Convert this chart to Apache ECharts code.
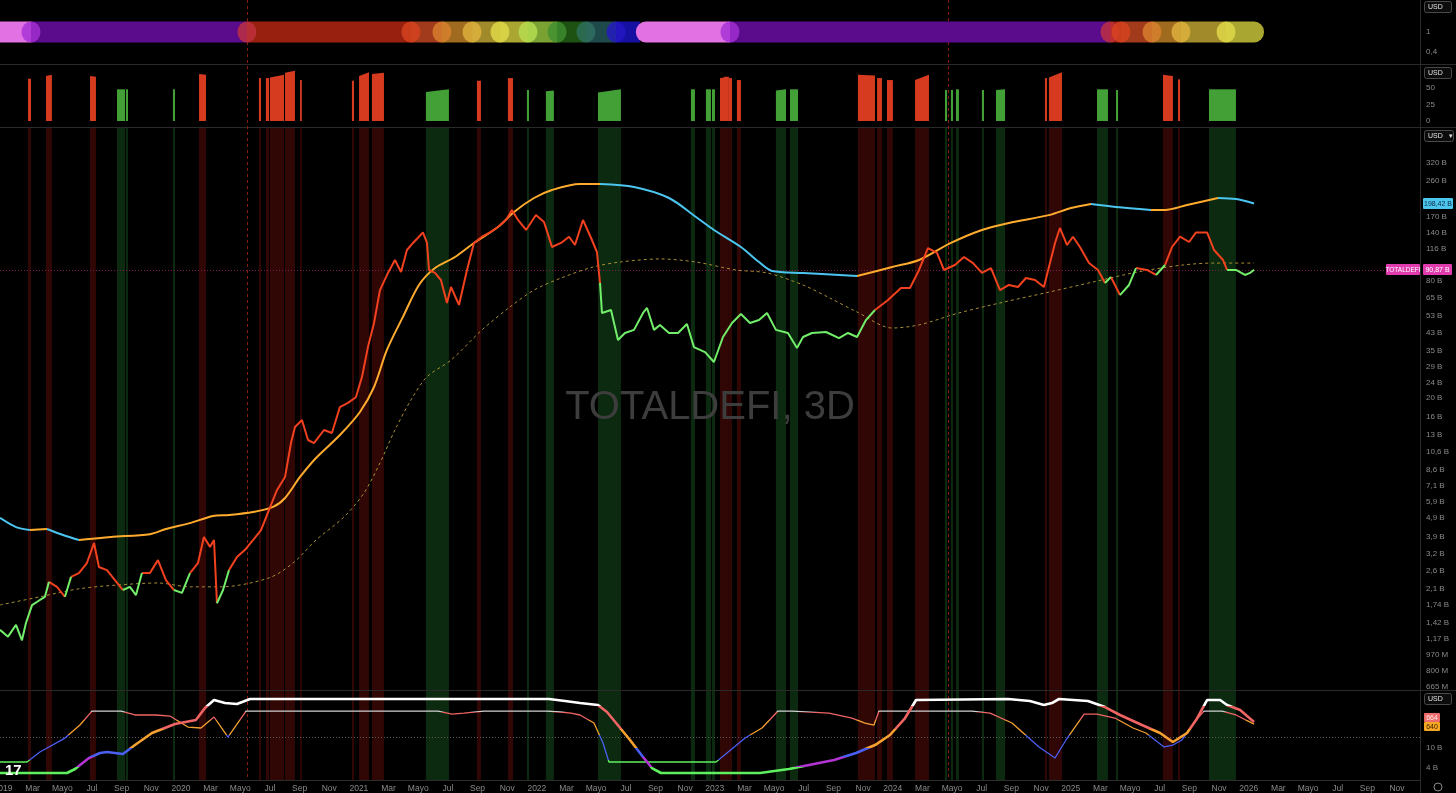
<!DOCTYPE html>
<html><head><meta charset="utf-8">
<script src="https://cdn.jsdelivr.net/npm/echarts@6/dist/echarts.min.js"></script>
<style>html,body{margin:0;padding:0;background:#000;overflow:hidden}#c{width:1456px;height:793px}</style>
</head><body><div id="c"></div>
<script>
// ================= DATA (x = months since Jan 2019) =================
const timeTickMonths = [0,2,4,6,8,10,12,14,16,18,20,22,24,26,28,30,32,34,36,38,40,42,44,46,48,50,52,54,56,58,60,62,64,66,68,70,72,74,76,78,80,82,84,86,88,90,92,94];
const timeTickLabels = ['2019','Mar','Mayo','Jul','Sep','Nov','2020','Mar','Mayo','Jul','Sep','Nov','2021','Mar','Mayo','Jul','Sep','Nov','2022','Mar','Mayo','Jul','Sep','Nov','2023','Mar','Mayo','Jul','Sep','Nov','2024','Mar','Mayo','Jul','Sep','Nov','2025','Mar','Mayo','Jul','Sep','Nov','2026','Mar','Mayo','Jul','Sep','Nov'];

const mainTickValues = [320,260,170,140,116,80,65,53,43,35,29,24,20,16,13,10.6,8.6,7.1,5.9,4.9,3.9,3.2,2.6,2.1,1.74,1.42,1.17,0.97,0.80,0.665];
const mainTickLabels = ['320 B','260 B','170 B','140 B','116 B','80 B','65 B','53 B','43 B','35 B','29 B','24 B','20 B','16 B','13 B','10,6 B','8,6 B','7,1 B','5,9 B','4,9 B','3,9 B','3,2 B','2,6 B','2,1 B','1,74 B','1,42 B','1,17 B','970 M','800 M','665 M'];
const ribbonTickValues = [1, 0.4];
const ribbonTickLabels = ['1', '0,4'];
const histTickValues = [0, 25, 50];
const oscTickValues = [366, 137];
const oscTickLabels = ['10 B', '4 B'];

// TOTALDEFI price (billions USD)
const priceMonths = [-0.20,0.34,0.88,1.28,1.55,1.96,2.49,2.83,3.10,3.64,4.18,4.59,5.12,5.66,6.14,6.47,7.01,7.55,8.09,8.56,8.97,9.37,9.91,10.45,10.99,11.53,12.07,12.61,13.15,13.55,13.96,14.23,14.43,14.84,15.24,15.78,16.32,16.86,17.40,17.94,18.48,19.02,19.42,19.69,20.16,20.57,20.97,21.65,22.18,22.72,23.26,23.80,24.21,24.61,25.02,25.42,25.96,26.43,26.84,27.24,27.65,28.05,28.32,28.59,28.73,29.13,29.53,29.94,30.21,30.75,31.29,31.76,32.30,32.84,33.38,33.92,34.32,34.73,35.27,35.94,36.48,37.02,37.63,38.17,38.57,39.11,39.65,40.05,40.26,40.39,41.00,41.47,41.94,42.55,43.16,43.43,43.90,44.30,44.91,45.52,46.12,46.59,47.34,47.94,48.55,49.16,49.76,50.37,50.98,51.52,52.12,52.93,53.54,53.95,54.55,55.50,56.37,56.98,57.59,58.19,58.80,59.68,60.55,61.16,61.77,62.37,62.98,63.45,64.19,64.80,65.41,66.01,66.62,67.23,67.83,68.44,68.98,69.59,70.19,70.53,70.94,71.27,71.75,72.15,72.62,73.23,73.84,74.31,74.71,75.32,75.93,76.40,77.14,77.75,78.36,78.83,79.37,79.98,80.45,81.19,81.66,82.27,82.54,83.14,83.75,84.09,84.36];
const priceValues = [1.30,1.20,1.38,1.15,1.41,1.74,1.85,1.92,2.29,2.16,1.92,2.43,2.54,2.86,3.62,2.73,2.63,2.34,2.08,2.16,1.96,2.54,2.54,2.96,2.34,2.08,2.01,2.54,2.86,3.89,3.46,3.75,1.78,2.08,2.63,3.07,3.34,3.75,4.22,5.35,6.77,7.89,11.77,14.22,15.45,12.20,11.77,13.73,13.25,18.0,18.9,20.2,25.7,36.5,48.5,71.5,87.5,101.9,88.5,114.7,124.6,134.1,141.1,124.6,90.6,87.5,80.5,61.4,74.1,60.0,90.6,124.6,134.1,141.1,150.4,163.4,183.8,163.4,145.2,173.3,159.7,118.8,124.6,134.1,121.6,163.4,132.5,112.0,77.7,54.6,56.5,39.7,43.1,44.7,54.6,57.9,44.7,47.4,43.1,43.1,47.9,36.5,34.4,30.6,41.1,48.5,53.9,48.5,50.2,54.6,44.7,43.1,36.1,41.1,43.1,43.6,40.6,43.1,41.1,50.2,56.5,63.6,73.2,73.2,90.6,117.4,110.7,90.6,96.1,105.6,98.3,87.5,92.7,71.5,75.9,74.1,82.4,80.5,74.1,93.8,124.6,148.7,121.6,134.1,118.8,98.3,90.6,77.7,83.4,67.4,75.9,92.7,90.6,85.4,96.1,118.8,134.1,126.0,141.1,141.1,114.7,101.9,90.6,90.6,85.4,87.5,90.87];

// Long moving average (orange rising / blue falling)
const maMonths = [-0.20,0.88,1.82,2.97,4.05,5.12,7.28,9.91,10.99,12.61,14.16,15.24,16.86,18.21,19.02,20.03,21.11,22.72,24.07,25.02,25.89,26.97,28.05,29.13,30.48,31.76,33.38,34.46,35.81,37.02,38.91,40.26,42.55,44.91,46.73,47.94,49.76,50.98,51.86,53.95,57.59,59.95,61.77,63.92,66.01,67.83,70.53,72.02,73.37,75.05,77.41,78.36,79.84,81.93,83.14,84.36];
const maValues = [4.87,4.37,4.22,4.27,3.98,3.75,3.89,4.02,4.27,4.58,4.98,5.04,5.22,5.54,6.16,7.89,9.87,12.94,16.98,22.8,35.3,52.1,75.9,92.7,105.6,124.6,150.4,179.5,211.7,232.7,249.8,249.8,241.0,211.7,169.3,145.2,118.8,99.5,89.5,87.5,84.4,93.8,101.9,124.6,145.2,157.8,173.0,188.1,197.2,190.4,183.8,183.8,195.0,211.7,209.2,198.42];

// Dashed trend line
const dashMonths = [-0.20,2.49,5.12,7.82,10.45,12.61,14.70,17.94,19.56,21.11,22.99,24.34,25.42,26.43,27.51,28.59,30.21,32.30,34.19,35.81,37.63,39.78,41.61,44.30,46.73,49.43,51.52,53.95,55.77,57.59,59.95,61.77,64.46,67.50,70.53,73.50,76.53,79.57,81.66,84.36];
const dashValues = [1.744,1.92,2.11,2.21,2.26,2.16,2.16,2.40,2.86,3.75,4.92,6.53,9.30,13.73,19.56,25.7,31.3,44.7,58.6,71.5,82.4,93.8,99.5,103.2,99.5,90.6,87.5,75.9,65.0,55.2,45.7,47.4,54.6,62.1,69.8,78.6,88.5,96.1,98.3,98.3];

// Bottom oscillator (thick)
const osc1Months = [-0.20,4.32,4.86,5.80,6.54,7.01,8.09,8.90,10.05,11.60,13.01,13.62,14.23,14.97,15.78,16.66,36.82,37.90,38.91,40.12,40.73,41.34,42.28,43.16,43.76,44.37,51.05,53.00,56.04,57.52,58.80,59.81,60.83,61.57,67.77,69.25,70.19,70.73,71.21,73.16,74.31,75.32,76.80,78.02,78.89,79.84,80.45,81.19,82.07,82.54,83.42,84.36];
const osc1Values = [80,80,126,252,309,320,297,400,538,641,686,824,915,881,869,927,927,904,881,858,778,652,458,263,137,80,80,126,229,309,400,515,709,915,927,904,858,881,927,904,835,744,629,538,435,538,686,915,915,858,801,664];
// Bottom oscillator (thin)
const osc2Months = [-0.20,1.62,2.49,4.18,5.19,6.00,7.96,8.90,10.32,11.26,12.47,13.35,14.23,15.17,16.39,29.33,30.28,31.09,32.43,36.68,37.56,38.30,38.91,39.85,40.46,40.86,48.08,48.82,50.04,51.18,52.26,53.20,55.70,57.25,58.13,58.73,59.07,65.34,66.56,68.04,69.86,70.94,71.68,72.90,73.77,74.98,76.20,77.07,78.29,78.89,79.50,80.45,80.99,82.20,83.14,84.36];
const osc2Values = [206,206,320,480,629,789,789,744,744,732,606,595,721,492,789,789,755,766,789,789,778,766,744,652,423,206,206,309,480,595,789,789,766,709,652,629,789,789,766,652,378,252,458,755,755,709,595,538,378,400,458,686,789,789,744,640];
const oscMidLevel = 492;

// Signal bars: [startMonth, endMonth, heightStart, heightEnd, kind]
const signalBars = [
  [1.69,1.89,64,64,'sell'],[2.90,3.30,68,70,'sell'],[5.87,6.27,68,67,'sell'],
  [7.69,8.23,48,48,'buy'],[8.29,8.43,48,48,'buy'],[11.46,11.60,48,48,'buy'],
  [13.22,13.69,71,70,'sell'],[17.26,17.40,65,65,'sell'],[17.73,17.94,65,65,'sell'],
  [18.00,18.95,66,70,'sell'],[19.02,19.69,73,76,'sell'],[20.03,20.09,62,62,'sell'],
  [23.53,23.67,61,61,'sell'],[24.01,24.68,68,74,'sell'],[24.88,25.69,71,73,'sell'],
  [28.52,30.07,44,48,'buy'],[31.96,32.23,61,61,'sell'],[34.05,34.39,65,65,'sell'],
  [35.33,35.47,47,47,'buy'],[36.61,37.15,45,46,'buy'],[40.12,41.67,43,48,'buy'],
  [46.39,46.66,48,48,'buy'],[47.40,47.74,48,48,'buy'],[47.81,48.01,48,48,'buy'],
  [48.35,48.62,65,66,'sell'],[48.62,48.95,67,67,'sell'],[48.95,49.16,65,65,'sell'],[49.49,49.76,62,62,'sell'],
  [52.12,52.80,46,48,'buy'],[53.07,53.61,48,48,'buy'],
  [57.65,58.80,70,69,'sell'],[58.94,59.27,65,65,'sell'],[59.61,60.01,62,62,'sell'],[61.50,62.44,62,70,'sell'],
  [63.52,63.66,47,47,'buy'],[63.92,64.06,47,47,'buy'],[64.26,64.46,48,48,'buy'],[66.01,66.15,47,47,'buy'],[66.96,67.57,47,48,'buy'],
  [70.26,70.40,65,65,'sell'],[70.53,71.41,66,74,'sell'],
  [73.77,74.51,48,48,'buy'],[75.05,75.19,47,47,'buy'],
  [78.22,78.89,70,68,'sell'],[79.23,79.37,63,63,'sell'],
  [81.32,83.14,48,48,'buy']
];

// Cycle ribbon: [startMonth, endMonth, phase]
const ribbonSegments = [
  [-0.20,1.89,'pink'],[1.89,16.45,'purple'],[16.45,27.51,'red'],[27.51,29.60,'rust'],
  [29.60,31.63,'amber'],[31.63,33.51,'ochre'],[33.51,35.40,'yellow'],[35.40,37.36,'lime'],
  [37.36,39.31,'forest'],[39.31,41.34,'teal'],[41.34,42.95,'navy'],[42.68,49.02,'pink'],
  [49.02,74.65,'purple'],[74.65,75.39,'red'],[75.39,77.48,'rust'],[77.48,79.43,'amber'],
  [79.43,82.47,'ochre'],[82.47,85.03,'yellow']
];
const ribbonDots = [
  [1.89,'purple'],[16.45,'red'],[27.51,'rust'],[29.60,'amber'],[31.63,'ochre'],[33.51,'yellow'],
  [35.40,'lime'],[37.36,'forest'],[39.31,'teal'],[41.34,'navy'],[49.02,'purple'],[74.65,'red'],
  [75.39,'rust'],[77.48,'amber'],[79.43,'ochre'],[82.47,'yellow']
];
const markerMonths = [16.45, 63.72];

// ================= STYLES =================
const SEG_COLOR = {pink:'#e272e4', purple:'#5b0c8c', red:'#97200f', rust:'#a13b1b', amber:'#a06a1f', ochre:'#a08a2a', yellow:'#aaa632', lime:'#7aa232', forest:'#1e5212', teal:'#1f4a4c', navy:'#1610a2'};
const DOT_COLOR = {purple:'#a52fd4', red:'#c2323f', rust:'#d8431f', amber:'#d9822e', ochre:'#e0b43e', yellow:'#e2dc4a', lime:'#b8e052', forest:'#3f9030', teal:'#2f7060', navy:'#2418c4'};
const RIBBON_ROUND = {0:[0,0,0,0], 11:[10,0,0,10], 17:[0,10,10,0]};
const BAR_COLOR = {sell:'#d63b20', buy:'#43a036'};
const BAND_COLOR = {sell:'#300705', buy:'#0b2a10'};
const LABEL = {color:'#8a8a8a', fontSize:8, fontFamily:'Liberation Sans, Arial, sans-serif'};
const AXIS_LINE = {show:true, onZero:false, lineStyle:{color:'#2c2c2c', width:1}};
const XMIN = -0.2, XMAX = 95.55;

// ================= HELPERS =================
function lnPts(ms, vs){ return ms.map((m,i)=>[m, Math.log(vs[i])]); }
function splitSegments(pts, colorOf){
  const out = {};
  for (let i=0;i<pts.length-1;i++){
    const c = colorOf(i);
    if (!out[c]) out[c] = [];
    const arr = out[c];
    const prev = arr.length ? arr[arr.length-1] : null;
    if (!prev || prev[0] !== pts[i][0]) {
      if (arr.length) arr.push([pts[i][0], null]);
      arr.push(pts[i]);
    }
    arr.push(pts[i+1]);
  }
  return out;
}
const pricePts = lnPts(priceMonths, priceValues);
const dashPts = lnPts(dashMonths, dashValues);
const maPts = lnPts(maMonths, maValues);
function dashAt(m){
  for (let i=0;i<dashPts.length-1;i++){
    if (m <= dashPts[i+1][0]) {
      const t = (m-dashPts[i][0])/(dashPts[i+1][0]-dashPts[i][0]);
      return dashPts[i][1] + t*(dashPts[i+1][1]-dashPts[i][1]);
    }
  }
  return dashPts[dashPts.length-1][1];
}
const priceAbove = pricePts.map(p => p[1] >= dashAt(p[0]));
const priceSplit = splitSegments(pricePts, i => priceAbove[i] ? 'above' : 'below');
const maSplit = splitSegments(maPts, i => maPts[i+1][1] >= maPts[i][1] ? 'rising' : 'falling');

function xAxisFor(gi, showLabels){
  return {
    type:'value', gridIndex:gi, min:XMIN, max:XMAX, splitLine:{show:false},
    axisTick:{show:false}, axisLine: showLabels ? AXIS_LINE : {show:false, onZero:false},
    axisLabel: showLabels ? Object.assign({}, LABEL, {fontSize:8.5, margin:4, customValues: timeTickMonths,
      formatter: v => { const i = timeTickMonths.indexOf(Math.round(v)); return i>=0 ? timeTickLabels[i] : ''; }}) : {show:false}
  };
}
function yAxisFor(gi, min, max, values, fmt){
  return {
    type:'value', gridIndex:gi, position:'right', min, max, splitLine:{show:false},
    axisTick:{show:false}, axisLine: AXIS_LINE,
    axisLabel: Object.assign({}, LABEL, {margin:6, customValues: values, formatter: fmt})
  };
}
function nearestLabel(values, labels, transform){
  return v => { let bi=0, bd=Infinity; values.forEach((t,i)=>{ const d=Math.abs(transform(t)-v); if(d<bd){bd=d;bi=i;} }); return labels[bi]; };
}

const grids = [
  {left:0, right:36, top:0, height:64},
  {left:0, right:36, top:65, height:62},
  {left:0, right:36, top:127, height:563},
  {left:0, right:36, top:690, height:90}
].map(g => Object.assign(g, {outerBoundsMode:'none', containLabel:false}));

const series = [];
series.push({
  type:'custom', xAxisIndex:0, yAxisIndex:0, z:3, silent:true,
  data: ribbonSegments.map(s => [s[0], s[1], 1]), encode:{x:[0,1], y:2},
  renderItem: (params, api) => {
    const a = api.coord([api.value(0), api.value(2)]);
    const b = api.coord([api.value(1), api.value(2)]);
    const seg = ribbonSegments[params.dataIndex];
    return {type:'rect', shape:{x:a[0], y:a[1]-10.5, width:b[0]-a[0], height:21, r: RIBBON_ROUND[params.dataIndex] || 0},
      style:{fill: SEG_COLOR[seg[2]]}};
  }
});
series.push({
  type:'scatter', xAxisIndex:0, yAxisIndex:0, z:4, silent:true, symbol:'circle', symbolSize:[19,21],
  data: ribbonDots.map(d => ({value:[d[0], 1], itemStyle:{color: DOT_COLOR[d[1]]}}))
});
series.push({
  type:'custom', xAxisIndex:1, yAxisIndex:1, z:3, silent:true,
  data: signalBars.map(b => [b[0], b[1], b[2], b[3]]), encode:{x:[0,1], y:[2,3]},
  renderItem: (params, api) => {
    const bar = signalBars[params.dataIndex];
    const p0 = api.coord([bar[0], 0]), p1 = api.coord([bar[0], bar[2]]);
    const p2 = api.coord([bar[1], bar[3]]), p3 = api.coord([bar[1], 0]);
    let xr = Math.max(p3[0], p0[0] + 1.8);
    return {type:'polygon', shape:{points:[[p0[0],p0[1]],[p1[0],p1[1]],[xr,p2[1]],[xr,p3[1]]]}, style:{fill: BAR_COLOR[bar[4]]}};
  }
});
function bandSeries(gi){
  return {
    type:'custom', xAxisIndex:gi, yAxisIndex:gi, z:1, silent:true,
    data: signalBars.map(b => [b[0], b[1], 0]), encode:{x:[0,1], y:2},
    renderItem: (params, api) => {
      const bar = signalBars[params.dataIndex];
      const a = api.coord([bar[0], 0])[0], b = api.coord([bar[1], 0])[0];
      const cs = params.coordSys;
      return {type:'rect', shape:{x:a, y:cs.y, width:Math.max(b-a, 1.8), height:cs.height}, style:{fill: BAND_COLOR[bar[4]]}};
    }
  };
}
series.push(bandSeries(2));
series.push({type:'line', xAxisIndex:2, yAxisIndex:2, z:4, silent:true, showSymbol:false, smooth:0.3,
  data: dashPts, lineStyle:{color:'#a88e34', width:1, type:[3,3]}});
series.push({type:'line', xAxisIndex:2, yAxisIndex:2, z:5, silent:true, showSymbol:false, smooth:0.3,
  data: maSplit.rising || [], lineStyle:{color:'#ffab2e', width:2}, itemStyle:{color:'#ffab2e'}});
series.push({type:'line', xAxisIndex:2, yAxisIndex:2, z:5, silent:true, showSymbol:false, smooth:0.3,
  data: maSplit.falling || [], lineStyle:{color:'#4cc6f0', width:2}, itemStyle:{color:'#4cc6f0'}});
series.push({type:'line', xAxisIndex:2, yAxisIndex:2, z:6, silent:true, showSymbol:false,
  data: priceSplit.above || [], lineStyle:{color:'#f2411f', width:2}, itemStyle:{color:'#f2411f'}});
series.push({type:'line', xAxisIndex:2, yAxisIndex:2, z:6, silent:true, showSymbol:false,
  data: priceSplit.below || [], lineStyle:{color:'#72ee6a', width:2}, itemStyle:{color:'#72ee6a'}});
series.push(bandSeries(3));
const osc2Index = series.length;
series.push({type:'line', xAxisIndex:3, yAxisIndex:3, z:5, silent:true, showSymbol:false,
  data: osc2Months.map((m,i)=>[m, osc2Values[i]]), lineStyle:{width:1.3}});
const osc1Index = series.length;
series.push({type:'line', xAxisIndex:3, yAxisIndex:3, z:6, silent:true, showSymbol:false,
  data: osc1Months.map((m,i)=>[m, osc1Values[i]]), lineStyle:{width:2.6}});

const option = {
  backgroundColor:'#000', animation:false,
  grid: grids,
  xAxis: [xAxisFor(0,false), xAxisFor(1,false), xAxisFor(2,false), xAxisFor(3,true)],
  yAxis: [
    yAxisFor(0, 0.04, 1.96, ribbonTickValues, nearestLabel(ribbonTickValues, ribbonTickLabels, t=>t)),
    yAxisFor(1, -9.1, 84.8, histTickValues, v => String(Math.round(v))),
    yAxisFor(2, -0.4465, 6.1925, mainTickValues.map(Math.log), nearestLabel(mainTickValues, mainTickLabels, Math.log)),
    yAxisFor(3, 0, 1030, oscTickValues, nearestLabel(oscTickValues, oscTickLabels, t=>t))
  ],
  visualMap: [
    {type:'piecewise', show:false, seriesIndex: osc1Index, dimension:1, pieces:[
      {lt:150, color:'#5ef05e'},{gte:150, lt:260, color:'#b233d2'},{gte:260, lt:370, color:'#4a5ef2'},
      {gte:370, lt:580, color:'#f5a030'},{gte:580, lt:850, color:'#f06464'},{gte:850, color:'#ffffff'}]},
    {type:'piecewise', show:false, seriesIndex: osc2Index, dimension:1, pieces:[
      {lt:230, color:'#5ef05e'},{gte:230, lt:520, color:'#4a5ef2'},{gte:520, lt:690, color:'#f5a030'},
      {gte:690, lt:780, color:'#f06464'},{gte:780, color:'#d0d0d0'}]}
  ],
  series
};

const chart = echarts.init(document.getElementById('c'), null, {renderer:'canvas', width:1456, height:793});
chart.setOption(option);

// ================= OVERLAYS positioned via the chart's scales =================
const G = [];
const fmtB = v => v.toFixed(2).replace('.', ',') + ' B';
[64.5, 127.5, 690.5].forEach(y => G.push({type:'line', z:2, silent:true, shape:{x1:0, y1:y, x2:1456, y2:y}, style:{stroke:'#2a2a2a', lineWidth:1}}));
G.push({type:'line', z:2, silent:true, shape:{x1:1420.5, y1:0, x2:1420.5, y2:793}, style:{stroke:'#2a2a2a', lineWidth:1}});
markerMonths.forEach(m => {
  const x = Math.round(chart.convertToPixel({xAxisIndex:0}, m)) + 0.5;
  G.push({type:'line', z:2, silent:true, shape:{x1:x, y1:0, x2:x, y2:780}, style:{stroke:'#8a1c12', lineWidth:1, lineDash:[3,3]}});
});
const lastPrice = priceValues[priceValues.length-1];
const lastMA = maValues[maValues.length-1];
const yP = chart.convertToPixel({yAxisIndex:2}, Math.log(lastPrice));
const yM = chart.convertToPixel({yAxisIndex:2}, Math.log(lastMA));
G.push({type:'line', z:2, silent:true, shape:{x1:0, y1:Math.round(yP)+0.5, x2:1420, y2:Math.round(yP)+0.5}, style:{stroke:'#7a1d52', lineWidth:1, lineDash:[1,2]}});
const yMid = chart.convertToPixel({yAxisIndex:3}, oscMidLevel);
G.push({type:'line', z:2, silent:true, shape:{x1:0, y1:Math.round(yMid)+0.5, x2:1420, y2:Math.round(yMid)+0.5}, style:{stroke:'#5a5a5a', lineWidth:1, lineDash:[1,2]}});

function tag(x, yc, w, h, fill, text, color, fs){
  G.push({type:'rect', z:20, silent:true, shape:{x:x, y:Math.round(yc - h/2), width:w, height:h, r:1}, style:{fill:fill}});
  G.push({type:'text', z:21, silent:true, x:x + w/2, y:Math.round(yc)+0.5, style:{text:text, fill:color, font:(fs||7)+'px Liberation Sans, Arial, sans-serif', align:'center', verticalAlign:'middle', textAlign:'center', textVerticalAlign:'middle'}});
}
tag(1386, yP, 34, 11, '#e13cae', 'TOTALDEFI', '#ffffff', 6.5);
tag(1423, yP, 29, 11, '#e13cae', fmtB(lastPrice), '#ffffff');
tag(1423, yM, 30, 11, '#4cc6ec', fmtB(lastMA), '#0b2746');
const y1 = chart.convertToPixel({yAxisIndex:3}, osc1Values[osc1Values.length-1]);
tag(1424, y1 - 4, 16, 9, '#ee6b6b', String(osc1Values[osc1Values.length-1]), '#ffe8e8');
tag(1424, y1 + 5, 16, 9, '#f5a623', String(osc2Values[osc2Values.length-1]), '#3a2200');
function usd(y, w, text){
  G.push({type:'rect', z:20, silent:true, shape:{x:1424.5, y:y+0.5, width:w, height:11, r:2}, style:{fill:'#0c0c0c', stroke:'#4a4a4a', lineWidth:1}});
  G.push({type:'text', z:21, silent:true, x:1428, y:y+6.5, style:{text:text, fill:'#e0e0e0', font:'7px Liberation Sans, Arial, sans-serif', verticalAlign:'middle', textVerticalAlign:'middle'}});
}
usd(1, 27, 'USD'); usd(67, 27, 'USD'); usd(130, 29, 'USD   \u25BE'); usd(693, 27, 'USD');
G.push({type:'text', z:1, silent:true, x:710, y:408, style:{text:'TOTALDEFI, 3D', fill:'#3d3d3d', font:'40px Liberation Sans, Arial, sans-serif', align:'center', verticalAlign:'middle', textAlign:'center', textVerticalAlign:'middle'}});
G.push({type:'text', z:20, silent:true, x:5, y:771, style:{text:'17', fill:'#ffffff', font:'bold 15px Liberation Sans, Arial, sans-serif', verticalAlign:'middle', textVerticalAlign:'middle'}});
G.push({type:'circle', z:20, silent:true, shape:{cx:1438, cy:787, r:4}, style:{fill:'none', stroke:'#8a8a8a', lineWidth:1}});

chart.setOption({graphic: G});
</script>
</body></html>
